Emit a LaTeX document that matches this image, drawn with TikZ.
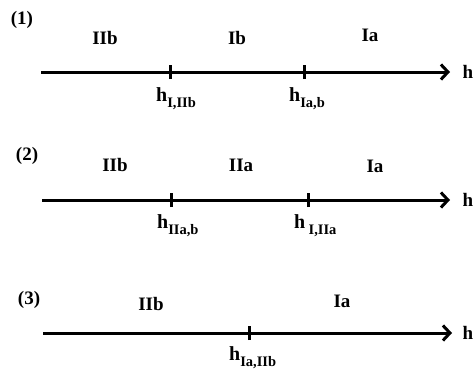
\documentclass[tikz,border=0pt]{standalone}
\usepackage{fontspec}
\setmainfont{Liberation Serif}
\usetikzlibrary{arrows.meta}
\tikzset{
  axis/.style={line width=3pt, -{Straight Barb[length=7pt,width=15pt,line width=3pt]}},
  tick/.style={line width=3pt},
  lbl/.style={font=\fontsize{19}{19}\selectfont\bfseries, inner sep=0pt},
  hlbl/.style={font=\fontsize{20}{20}\selectfont\bfseries, inner sep=0pt, anchor=base west}
}
\newcommand{\hsub}[1]{h\raisebox{-0.7ex}{\fontsize{14.5}{14.5}\selectfont #1}}
\begin{document}
\begin{tikzpicture}[x=1pt,y=-1pt]
\useasboundingbox (0,0) rectangle (476,372);
% ---- (1) ----
\node[lbl] (n1) at (22,20) {(1)};
\coordinate (a1s) at (41,72);
\coordinate (a1e) at (450,72);
\draw[axis] (a1s) -- (a1e);
\node[lbl] (h1) at (468,72) {h};
\coordinate (t11) at (170,72);
\coordinate (t12) at (304,72);
\draw[tick] ([yshift=-7pt]t11) -- ([yshift=7pt]t11);
\draw[tick] ([yshift=-7pt]t12) -- ([yshift=7pt]t12);
\node[lbl] (r11) at (105,38) {IIb};
\node[lbl] (r12) at (237,38) {Ib};
\node[lbl] (r13) at (370,35) {Ia};
\node[hlbl] (l11) at (156,101) {\hsub{I,IIb}};
\node[hlbl] (l12) at (289,101) {\hsub{Ia,b}};
% ---- (2) ----
\node[lbl] (n2) at (27,156) {(2)};
\coordinate (a2s) at (42,200);
\coordinate (a2e) at (450,200);
\draw[axis] (a2s) -- (a2e);
\node[lbl] (h2) at (468,200) {h};
\coordinate (t21) at (171,200);
\coordinate (t22) at (308,200);
\draw[tick] ([yshift=-7pt]t21) -- ([yshift=7pt]t21);
\draw[tick] ([yshift=-7pt]t22) -- ([yshift=7pt]t22);
\node[lbl] (r21) at (115,165) {IIb};
\node[lbl] (r22) at (241,165) {IIa};
\node[lbl] (r23) at (375,166) {Ia};
\node[hlbl] (l21) at (157,228) {\hsub{IIa,b}};
\node[hlbl] (l22) at (294,228) {h\,\raisebox{-0.7ex}{\fontsize{14.5}{14.5}\selectfont I,IIa}};
% ---- (3) ----
\node[lbl] (n3) at (29,300) {(3)};
\coordinate (a3s) at (43,333);
\coordinate (a3e) at (452,333);
\draw[axis] (a3s) -- (a3e);
\node[lbl] (h3) at (468,333) {h};
\coordinate (t31) at (249,333);
\draw[tick] ([yshift=-7pt]t31) -- ([yshift=7pt]t31);
\node[lbl] (r31) at (151,304) {IIb};
\node[lbl] (r32) at (342,301) {Ia};
\node[hlbl] (l31) at (229,360) {\hsub{Ia,IIb}};
\end{tikzpicture}
\end{document}
